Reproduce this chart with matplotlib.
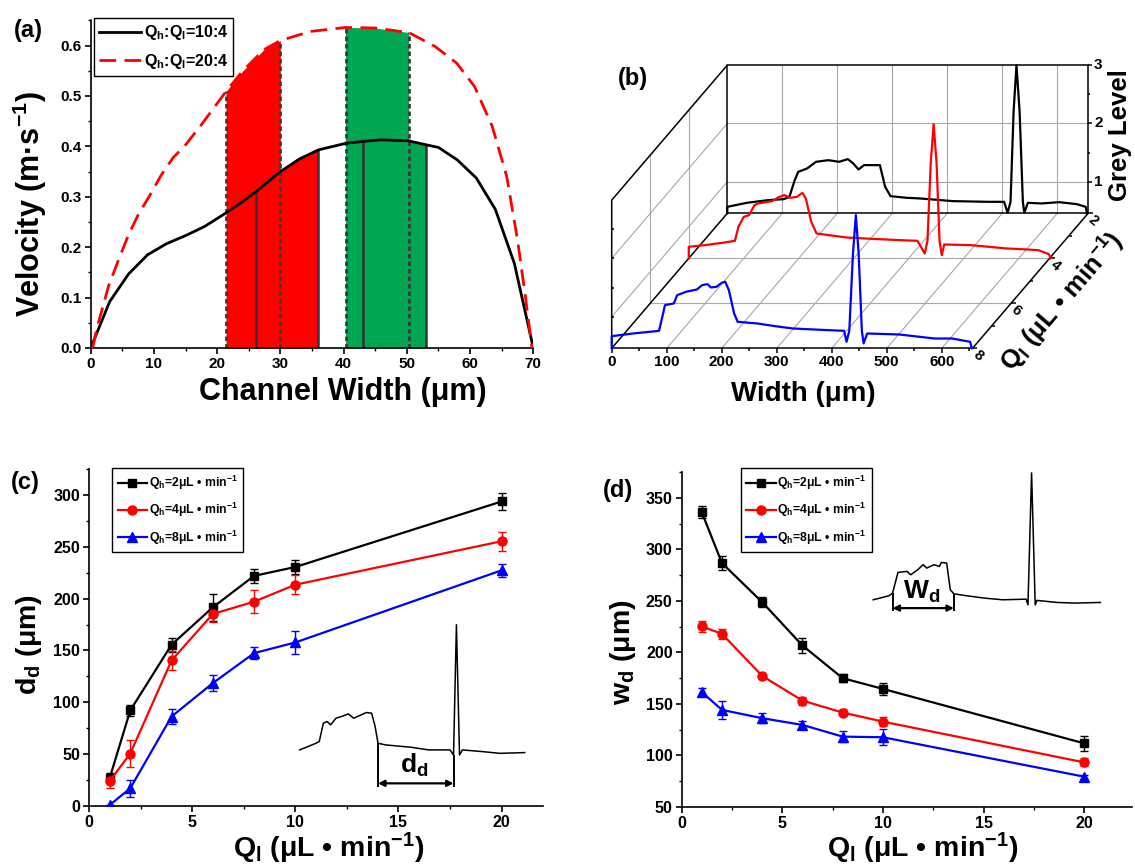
import numpy as np
import matplotlib
matplotlib.use('Agg')
import matplotlib.pyplot as plt
from matplotlib.ticker import MultipleLocator, FormatStrFormatter

plt.rcParams['font.family'] = ['Liberation Sans', 'DejaVu Sans']
plt.rcParams['font.weight'] = 'bold'
plt.rcParams['axes.labelweight'] = 'bold'
plt.rcParams['mathtext.fontset'] = 'custom'
plt.rcParams['mathtext.rm'] = 'Liberation Sans:bold'
plt.rcParams['mathtext.it'] = 'Liberation Sans:bold'
plt.rcParams['mathtext.bf'] = 'Liberation Sans:bold'
plt.rcParams['mathtext.default'] = 'rm'

# ---------------- (a) velocity profiles ----------------
black_x = np.array([0, 3, 6, 9, 12, 15, 18, 21.4, 24, 26.2, 30, 33, 36, 40.3, 43.1, 46,
                    50.3, 53.1, 55, 58, 61, 64, 67, 70])
black_v = np.array([0, .092, .147, .185, .207, .223, .241, .268, .290, .311, .350, .375, .393,
                    .406, .410, .413, .411, .403, .398, .373, .337, .275, .168, 0])
red_x = np.array([0.3, 1.0, 2.8, 4.4, 6.0, 7.5, 9.4, 11.2, 13.0, 15.0, 17.5, 21.4, 24.0, 27.4,
                  30.0, 34.7, 40.3, 44.9, 50.3, 54.5, 57.9, 60.7, 63.5, 65.8, 67.5, 68.6, 69.8])
red_v = np.array([0, .040, .122, .175, .225, .264, .304, .344, .377, .403, .443, .509, .549, .592,
                  .610, .628, .636, .635, .626, .598, .565, .519, .440, .340, .215, .116, 0])
# band edges: dashed start, solid, dashed end, solid end
red_band = [21.4, 26.2, 30.0, 36.0]
green_band = [40.3, 43.1, 50.3, 53.1]

# ---------------- (b) grey level profiles ----------------
blue_w = [0, 0, 38.7, 80.6, 86, 93.5, 96.8, 112.9, 119, 135.5, 154.8, 164.5, 174.2, 180.6, 190.3,
          200, 206.5, 213, 222.6, 229, 264.5, 296.8, 329, 393.5, 422.6, 427, 432, 438.7, 443.9,
          449, 454.8, 458, 464.5, 522.6, 587, 619, 651.6, 655]
blue_g = [0.46, 0.668, 0.714, 0.754, 0.76, 1.057, 1.2, 1.229, 1.371, 1.43, 1.468, 1.543, 1.56,
          1.503, 1.514, 1.583, 1.6, 1.457, 1.057, 0.914, 0.886, 0.84, 0.8, 0.771, 0.76, 0.571,
          0.76, 2.09, 2.743, 2.09, 0.76, 0.543, 0.714, 0.697, 0.628, 0.628, 0.571, 0.46]
redb_w = [0, 0, 29, 61.3, 83.9, 90.3, 100, 109.7, 119.4, 125.8, 151.6, 164.5, 174.2, 183.9, 196.8,
          206.5, 212.9, 222.6, 232.3, 254.8, 287, 319.4, 383.9, 416, 429, 434, 440, 445.2, 450.5,
          456, 460, 464.5, 512.9, 577.4, 616, 635.5, 654.8, 658]
redb_g = [0.46, 0.657, 0.686, 0.726, 0.76, 1.0, 1.171, 1.2, 1.371, 1.4, 1.44, 1.514, 1.543, 1.497,
          1.514, 1.583, 1.486, 1.086, 0.886, 0.857, 0.817, 0.8, 0.771, 0.76, 0.543, 0.76, 2.1,
          2.76, 2.1, 0.76, 0.514, 0.697, 0.686, 0.629, 0.611, 0.6, 0.531, 0.46]
blk_w = [0, 0, 35.5, 74.2, 103, 112.9, 122.6, 129, 145.2, 161.3, 183.9, 203.2, 219.4, 229, 238.7,
         248.4, 277.4, 287, 296.8, 325.8, 351.6, 409.7, 474.2, 503.2, 509.7, 515, 520.5, 525.8,
         531.5, 537.4, 540, 546.5, 571, 603.2, 635.5, 651.6, 654]
blk_g = [0.46, 0.571, 0.64, 0.686, 0.703, 0.743, 1.029, 1.171, 1.229, 1.343, 1.371, 1.343, 1.389,
         1.314, 1.211, 1.286, 1.286, 0.914, 0.754, 0.726, 0.714, 0.669, 0.657, 0.657, 0.469, 0.657,
         2.2, 3.0, 2.2, 0.657, 0.469, 0.64, 0.629, 0.651, 0.617, 0.571, 0.46]
b_traces = [(blk_w, blk_g, 2, 'black'), (redb_w, redb_g, 4, 'red'), (blue_w, blue_g, 8, 'blue')]

# ---------------- (c), (d) ----------------
ql = [1, 2, 4, 6, 8, 10, 20]
series_labels = ['Q$_h$=2μL • min$^{-1}$', 'Q$_h$=4μL • min$^{-1}$', 'Q$_h$=8μL • min$^{-1}$']
dd_vals = [[26.5, 92, 155.5, 191.6, 222, 230.6, 293.9],
           [23.9, 50.3, 140.3, 185.2, 197.1, 213.5, 255.5],
           [0.6, 16.8, 86.1, 118.4, 147.4, 157.7, 227.4]]
dd_errs = [[5, 5, 7, 13, 7, 7, 8],
           [7, 13, 9, 8, 11, 9, 9],
           [0, 8, 7, 8, 6, 11, 6]]
wd_vals = [[336.1, 286.8, 248.8, 206.7, 174.9, 164.5, 111.6],
           [225.2, 218, 177.1, 153.1, 141.5, 132.7, 93.1],
           [161.3, 144.1, 136, 129.5, 118.1, 117.5, 79.2]]
wd_errs = [[6, 7, 5, 7, 4, 6, 7],
           [5, 5, 3, 4, 3, 4, 4],
           [4, 9, 5, 4, 5, 8, 2]]
colors = ['black', 'red', 'blue']
markers = [('s', 5.5), ('o', 6.5), ('^', 7)]

# schematic insets (in data units of their panels)
inset_c_x = [10.21, 10.93, 11.16, 11.36, 11.54, 11.71, 11.97, 12.23, 12.57, 12.83, 13.09, 13.44,
             13.7, 13.87, 14.01, 14.39, 15.6, 16.46, 17.5, 17.67, 17.81, 17.96, 18.1, 19.05,
             19.91, 21.12]
inset_c_y = [53.9, 59.7, 61.9, 79.7, 81.3, 78.1, 84.5, 86.1, 88.7, 84.5, 86.8, 90, 89.4, 76.5,
             60.3, 58.7, 56.5, 53.9, 53.9, 49, 174.8, 49, 53.9, 52.3, 50.6, 51.3]
inset_c_marks = [14.01, 17.67]
inset_d_x = [9.52, 10.3, 10.48, 10.75, 11.2, 11.38, 11.73, 12.0, 12.18, 12.54, 12.81, 12.9, 13.17,
             13.35, 13.53, 14.16, 15.06, 15.96, 17.12, 17.21, 17.39, 17.57, 17.66, 18.65, 19.55,
             20.81]
inset_d_y = [251.1, 255, 257.6, 277.7, 278.7, 275.4, 280.3, 285.2, 281.9, 285.2, 283.5, 287.4,
             286.8, 260.8, 256.9, 255, 252.7, 251.1, 251.7, 246.2, 374.4, 246.2, 250.5, 248.5,
             247.9, 248.5]
inset_d_marks = [10.48, 13.53]

W, H = 1135, 868
fig = plt.figure(figsize=(W / 100, H / 100), dpi=100)


def px_axes(left, top, right, bottom):
    return fig.add_axes([left / W, 1 - bottom / H, (right - left) / W, (bottom - top) / H])


def px_text(x, y, s, **kw):
    fig.text(x / W, 1 - y / H, s, ha='center', va='center', **kw)


def style_axes(ax, labelsize):
    for s in ('top', 'right'):
        ax.spines[s].set_visible(False)
    for s in ('left', 'bottom'):
        ax.spines[s].set_linewidth(1.2)
    ax.tick_params(which='major', direction='out', length=4.5, width=1.2,
                   labelsize=labelsize, pad=2)
    ax.tick_params(which='minor', direction='out', length=2.5, width=1.0)


def place_labels(ax, xl, yl, xpos, ypos, size):
    ax.set_xlabel(xl, fontsize=size)
    ax.set_ylabel(yl, fontsize=size)
    ax.xaxis.set_label_coords(*xpos)
    ax.yaxis.set_label_coords(*ypos)
    ax.xaxis.label.set_va('center')
    ax.yaxis.label.set_va('center')


# ================= panel (a) =================
axa = px_axes(90.7, 20.4, 533.3, 348)
axa.set_xlim(0, 70)
axa.set_ylim(0, 0.65)
style_axes(axa, 11)
axa.xaxis.set_major_locator(MultipleLocator(10))
axa.xaxis.set_minor_locator(MultipleLocator(5))
axa.yaxis.set_major_locator(MultipleLocator(0.1))
axa.yaxis.set_minor_locator(MultipleLocator(0.05))
axa.yaxis.set_major_formatter(FormatStrFormatter('%.1f'))


def band_outline(band):
    lo, _, mid, hi = band
    m1 = (red_x >= lo) & (red_x <= mid)
    m2 = (black_x >= mid) & (black_x <= hi)
    return np.r_[red_x[m1], black_x[m2]], np.r_[red_v[m1], black_v[m2]]


def value_at(xs, vs, x0):
    return vs[np.argmin(np.abs(xs - x0))]


for band, col in ((red_band, '#ff0000'), (green_band, '#00a651')):
    fx, fy = band_outline(band)
    axa.fill_between(fx, 0, fy, color=col, lw=0, zorder=1)
    dashed = [band[0], band[2]]
    solid = [band[1], band[3]]
    axa.vlines(dashed, 0, [value_at(red_x, red_v, d) for d in dashed],
               colors='#3a3a3a', lw=2.0, linestyles=(0, (1.6, 1.1)), zorder=2)
    axa.vlines(solid, 0, [value_at(black_x, black_v, s) for s in solid],
               colors='#333333', lw=1.8, zorder=2)

axa.plot(black_x, black_v, color='black', lw=2.0, zorder=3, label='Q$_h$:Q$_l$=10:4')
axa.plot(red_x, red_v, color='#ff0000', lw=2.0, dashes=(6, 3), zorder=3,
         label='Q$_h$:Q$_l$=20:4')
leg = axa.legend(loc='upper left', bbox_to_anchor=(0.008, 1.006), fontsize=11.5,
                 fancybox=False, edgecolor='black', framealpha=1, handlelength=2.6,
                 handletextpad=0.2, borderpad=0.3, labelspacing=0.6, borderaxespad=0)
leg.get_frame().set_linewidth(1.0)
place_labels(axa, 'Channel Width (μm)', 'Velocity (m·s$^{-1}$)',
             (0.57, -0.134), (-0.137, 0.44), 22)
px_text(28, 30, '(a)', fontsize=17, fontweight='bold')

# ================= panel (b) =================
B_ORIGIN = (611.7, 348.3)    # pixel of (width 0, Q 8, grey ZMIN)
PX_W, PX_Z = 0.55, 58.33
ZMIN, ZMAX, WMAX = 0.46, 3.0, 656
Q_FRONT, Q_BACK = 8, 2
DW_Q, DZ_Q = 35.03, 0.3857
bl, bt, br, bb = 595, 40, 1135, 415
axb = px_axes(bl, bt, br, bb)
axb.set_xlim((bl - B_ORIGIN[0]) / PX_W, (br - B_ORIGIN[0]) / PX_W)
axb.set_ylim(-(bb - B_ORIGIN[1]) / PX_Z, (B_ORIGIN[1] - bt) / PX_Z)
axb.axis('off')


def proj(w, q, z):
    w = np.asarray(w, float)
    q = np.asarray(q, float)
    z = np.asarray(z, float)
    return w + (Q_FRONT - q) * DW_Q, (z - ZMIN) + (Q_FRONT - q) * DZ_Q


def seg(w, q, z, **kw):
    xs, ys = proj(w, q, z)
    shape = np.broadcast(xs, ys).shape
    axb.plot(np.broadcast_to(xs, shape), np.broadcast_to(ys, shape), clip_on=False, **kw)


grid_kw = dict(color='#a8a8a8', lw=0.8, zorder=1)
frame_kw = dict(color='black', lw=1.1, zorder=2, solid_capstyle='butt')
for w in range(100, 601, 100):
    seg([w, w], Q_BACK, [ZMIN, ZMAX], **grid_kw)
    seg([w, w], [Q_FRONT, Q_BACK], ZMIN, **grid_kw)
for z in (1, 2):
    seg([0, WMAX], Q_BACK, [z, z], **grid_kw)
    seg(0, [Q_FRONT, Q_BACK], [z, z], **grid_kw)
for q in (4, 6):
    seg(0, [q, q], [ZMIN, ZMAX], **grid_kw)
    seg([0, WMAX], [q, q], ZMIN, **grid_kw)

seg([0, WMAX, WMAX, 0, 0], Q_BACK, [ZMIN, ZMIN, ZMAX, ZMAX, ZMIN], **frame_kw)
seg(0, [Q_BACK, Q_FRONT, Q_FRONT], [ZMAX, ZMAX, ZMIN], **frame_kw)
seg(0, [Q_BACK, Q_FRONT], ZMIN, **frame_kw)
seg([0, WMAX], Q_FRONT, ZMIN, **frame_kw)
seg(WMAX, [Q_FRONT, Q_BACK], ZMIN, **frame_kw)

# ticks
for w in range(0, 601, 100):
    seg([w, w], Q_FRONT, [ZMIN, ZMIN - 0.075], **frame_kw)
    xs, ys = proj(w, Q_FRONT, ZMIN)
    axb.text(xs, ys - 0.23, str(w), ha='center', va='center', fontsize=11)
for w in range(50, 651, 100):
    seg([w, w], Q_FRONT, [ZMIN, ZMIN - 0.045], **frame_kw)
for q in range(2, 9):
    seg([WMAX, WMAX + (9 if q % 2 == 0 else 5)], [q, q], ZMIN, **frame_kw)
for q in (2, 4, 6, 8):
    xs, ys = proj(WMAX, q, ZMIN)
    axb.text(xs + 10, ys - 0.13, str(q), ha='center', va='center', fontsize=10.5,
             rotation=-40)
for z in (1, 2, 3):
    seg([WMAX, WMAX + 7], Q_BACK, [z, z], **frame_kw)
    xs, ys = proj(WMAX + 11, Q_BACK, z)
    axb.text(xs, ys, str(z), ha='left', va='center', fontsize=11)
for z in (1.5, 2.5):
    seg([WMAX, WMAX + 4], Q_BACK, [z, z], **frame_kw)
for z in (1, 1.5, 2, 2.5):
    seg([0, 5], Q_FRONT, [z, z], **frame_kw)

for tw, tg, q, col in b_traces:
    xs, ys = proj(tw, q, tg)
    axb.plot(xs, ys, color=col, lw=1.6, zorder=4, clip_on=False)

axb.text((803.6 - B_ORIGIN[0]) / PX_W, -(394 - B_ORIGIN[1]) / PX_Z, 'Width (μm)',
         ha='center', va='center', fontsize=20)
axb.text((1120 - B_ORIGIN[0]) / PX_W, (B_ORIGIN[1] - 135) / PX_Z, 'Grey Level',
         ha='center', va='center', fontsize=18.5, rotation=90)
qang = np.degrees(np.arctan2(6 * DZ_Q * PX_Z, 6 * DW_Q * PX_W))
axb.text((1062 - B_ORIGIN[0]) / PX_W, (B_ORIGIN[1] - 302) / PX_Z,
         'Q$_l$ (μL • min$^{-1}$)', ha='center', va='center', fontsize=18.5,
         rotation=qang, rotation_mode='anchor')
px_text(632.5, 78, '(b)', fontsize=17, fontweight='bold')


# ================= panels (c) and (d) =================
def draw_series(ax, vals, errs):
    for v, e, c, (m, ms), lab in zip(vals, errs, colors, markers, series_labels):
        ax.errorbar(ql, v, yerr=e, fmt='none', ecolor=c, elinewidth=1.0, capsize=2.8,
                    capthick=1.0, zorder=2)
        ax.plot(ql, v, color=c, lw=1.6, marker=m, ms=ms, label=lab, zorder=3)


def series_legend(ax, anchor):
    lg = ax.legend(loc='upper left', bbox_to_anchor=anchor, fontsize=8.8, fancybox=False,
                   edgecolor='black', framealpha=1, handlelength=2.4, handletextpad=0.15,
                   borderpad=0.45, labelspacing=0.75, borderaxespad=0, numpoints=1)
    lg.get_frame().set_linewidth(1.0)


def schematic(ax, xs, ys, marks, base, arrow_y, label, label_xy):
    xs = np.asarray(xs)
    ys = np.asarray(ys)
    ax.plot(xs, ys, color='black', lw=1.1, zorder=2)
    tops = [ys[np.argmin(np.abs(xs - m))] for m in marks]
    ax.vlines(marks, base, tops, colors='black', lw=1.4, zorder=2)
    ax.annotate('', xy=(marks[1], arrow_y), xytext=(marks[0], arrow_y),
                arrowprops=dict(arrowstyle='<|-|>', color='black', lw=1.6,
                                shrinkA=0, shrinkB=0, mutation_scale=9))
    ax.text(*label_xy, label, ha='center', va='center', fontsize=19)


axc = px_axes(89, 469.3, 89 + 22 * 20.63, 805.7)
axc.set_xlim(0, 22)
axc.set_ylim(0, 325)
style_axes(axc, 11.5)
axc.xaxis.set_major_locator(MultipleLocator(5))
axc.xaxis.set_minor_locator(MultipleLocator(2.5))
axc.yaxis.set_major_locator(MultipleLocator(50))
axc.yaxis.set_minor_locator(MultipleLocator(25))
draw_series(axc, dd_vals, dd_errs)
series_legend(axc, (0.051, 1.003))
schematic(axc, inset_c_x, inset_c_y, inset_c_marks, 18.4, 21.6, 'd$_d$', (15.77, 39.4))
place_labels(axc, 'Q$_l$ (μL • min$^{-1}$)', 'd$_d$ (μm)', (0.529, -0.128), (-0.133, 0.478), 20.5)
px_text(25.8, 483, '(c)', fontsize=17, fontweight='bold')

axd = px_axes(681.7, 472.3, 681.7 + 22.4 * 20.12, 806.7)
axd.set_xlim(0, 22.4)
axd.set_ylim(50, 375)
style_axes(axd, 11.5)
axd.xaxis.set_major_locator(MultipleLocator(5))
axd.xaxis.set_minor_locator(MultipleLocator(2.5))
axd.yaxis.set_major_locator(MultipleLocator(50))
axd.yaxis.set_minor_locator(MultipleLocator(25))
draw_series(axd, wd_vals, wd_errs)
series_legend(axd, (0.131, 1.012))
schematic(axd, inset_d_x, inset_d_y, inset_d_marks, 239.8, 243, 'W$_d$', (11.91, 259.2))
place_labels(axd, 'Q$_l$ (μL • min$^{-1}$)', 'w$_d$ (μm)', (0.534, -0.124), (-0.13, 0.4635), 20.5)
px_text(618, 490, '(d)', fontsize=17, fontweight='bold')

fig.savefig('out.png', dpi=100)
